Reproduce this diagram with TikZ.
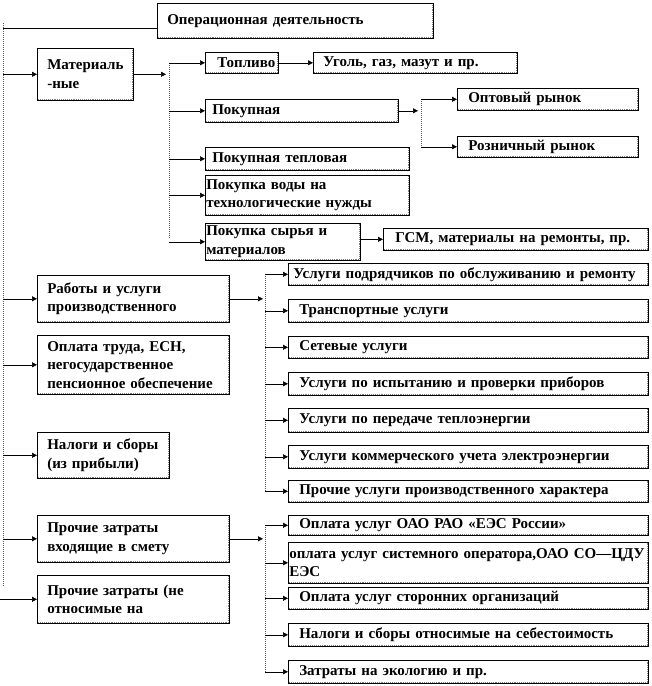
\documentclass[tikz,border=0pt]{standalone}
\usepackage{fontspec}
\setmainfont{Liberation Serif}
\usetikzlibrary{arrows.meta,calc}
\tikzset{
  box/.style={draw=black, line width=0.6pt, anchor=north west, inner ysep=0pt,
    align=left, font=\bfseries\fontsize{15}{18.5}\selectfont,
    path picture={\draw[gray, densely dotted, line width=0.9pt]
      ([xshift=-0.9pt,yshift=0.9pt]path picture bounding box.south west) --
      ([xshift=-0.9pt,yshift=0.9pt]path picture bounding box.south east) --
      ([xshift=-0.9pt]path picture bounding box.north east);}},
  arr/.style={-{Triangle[length=5pt,width=5pt]}, line width=0.6pt, black},
  vline/.style={gray!70!black, densely dotted, line width=1pt},
  hline/.style={line width=0.6pt, black}
}
\newcommand{\bxx}[7][10]{%
  \node[box, inner xsep=#1pt, minimum width={(#5-#3)*1pt}, minimum height={(#6-#4)*1pt},
        text width={(#5-#3-2*#1)*1pt}] (#2) at (#3,#4) {#7};}
\begin{document}
\begin{tikzpicture}[x=1pt,y=-1pt]
\useasboundingbox (0,0) rectangle (652,686);
% boxes
\bxx{op}{157}{3}{433}{38}{Операционная деятельность}
\bxx{mat}{37}{48}{133}{100}{Материаль\\-ные}
\bxx[12]{top}{205}{52}{278}{73}{Топливо}
\bxx{ugol}{313}{52}{517}{73}{Уголь,  газ,  мазут  и пр.}
\bxx[7]{pok}{205}{99}{398}{122}{Покупная}
\bxx[11]{opt}{457}{88}{638}{110}{Оптовый рынок}
\bxx[11]{roz}{457}{136}{638}{157}{Розничный рынок}
\bxx[7]{tep}{205}{147}{409}{170}{Покупная тепловая}
\bxx[1]{vod}{205}{175}{409}{215}{Покупка воды на\\технологические нужды}
\bxx[1]{syr}{205}{223}{360}{260}{Покупка сырья и\\материалов}
\bxx[12]{gsm}{383}{228}{648}{250}{ГСМ, материалы на ремонты, пр.}
\bxx{rab}{37}{275}{229}{322}{Работы и услуги\\производственного}
\bxx{opl}{37}{335}{229}{394}{Оплата труда, ЕСН,\\негосударственное\\пенсионное обеспечение}
\bxx{nal}{37}{432}{169}{478}{Налоги и сборы\\(из прибыли)}
\bxx{pz1}{37}{515}{229}{562}{Прочие затраты\\входящие в смету}
\bxx{pz2}{37}{575}{229}{623}{Прочие затраты (не\\относимые на}
\bxx[5]{u1}{288}{263}{648}{285}{Услуги подрядчиков по обслуживанию и ремонту}
\bxx[11]{u2}{288}{299}{648}{322}{Транспортные услуги}
\bxx[11]{u3}{288}{336}{648}{358}{Сетевые услуги}
\bxx[11]{u4}{288}{372}{648}{395}{Услуги по испытанию и проверки приборов}
\bxx[11]{u5}{288}{408}{648}{432}{Услуги по передаче теплоэнергии}
\bxx[11]{u6}{288}{445}{648}{468}{Услуги коммерческого учета электроэнергии}
\bxx[11]{u7}{288}{480}{648}{502}{Прочие услуги производственного характера}
\bxx[11]{p1}{288}{515}{648}{535}{Оплата услуг ОАО РАО «ЕЭС России»}
\bxx[1]{p2}{288}{542}{648}{583}{оплата услуг системного оператора,ОАО СО—ЦДУ\\ЕЭС}
\bxx[11]{p3}{288}{587}{648}{609}{Оплата услуг сторонних организаций}
\bxx[11]{p4}{288}{623}{648}{646}{Налоги и сборы относимые на себестоимость}
\bxx[11]{p5}{288}{660}{648}{683}{Затраты на экологию и пр.}
% main left line
\coordinate (L1) at (3,23);
\coordinate (L2) at (3,587);
\coordinate (L0) at (0,0);
\coordinate (T) at (3,28);
\draw[vline] (L1) -- (L2);
\draw[hline] (T) -- (T -| op.west);
\foreach \n in {mat,rab,opl,nal,pz1}
  \draw[arr] (L1 |- \n.west) -- (\n.west);
\draw[arr] (L0 |- pz2.west) -- (pz2.west);
% materials bracket
\coordinate (B1) at (169,63);
\coordinate (B1e) at (169,238);
\draw[vline] (B1) -- (B1e);
\draw[arr] (mat.east) -- ($(mat.east -| B1)+(-3,0)$);
\foreach \n in {top,pok,tep,vod,syr}
  \draw[arr] (B1 |- \n.west) -- (\n.west);
\draw[arr] (top.east) -- (ugol.west |- top.east);
\draw[arr] (syr.east |- gsm.west) -- (gsm.west);
% purchase bracket
\coordinate (B2) at (421,0);
\draw[vline] (B2 |- opt.west) -- (B2 |- roz.west);
\draw[arr] (pok.east) -- ($(pok.east -| B2)+(-3,0)$);
\foreach \n in {opt,roz}
  \draw[arr] (B2 |- \n.west) -- (\n.west);
% works bracket
\coordinate (B3) at (265,0);
\draw[vline] (B3 |- u1.west) -- (B3 |- u7.west);
\draw[arr] (rab.east) -- ($(rab.east -| B3)+(-2,0)$);
\foreach \n in {u1,u2,u3,u4,u5,u6,u7}
  \draw[arr] (B3 |- \n.west) -- (\n.west);
% other costs bracket
\draw[vline] (B3 |- p1.west) -- (B3 |- p5.west);
\draw[arr] (pz1.east) -- ($(pz1.east -| B3)+(-2,0)$);
\foreach \n in {p1,p2,p3,p4,p5}
  \draw[arr] (B3 |- \n.west) -- (\n.west);
\end{tikzpicture}
\end{document}
